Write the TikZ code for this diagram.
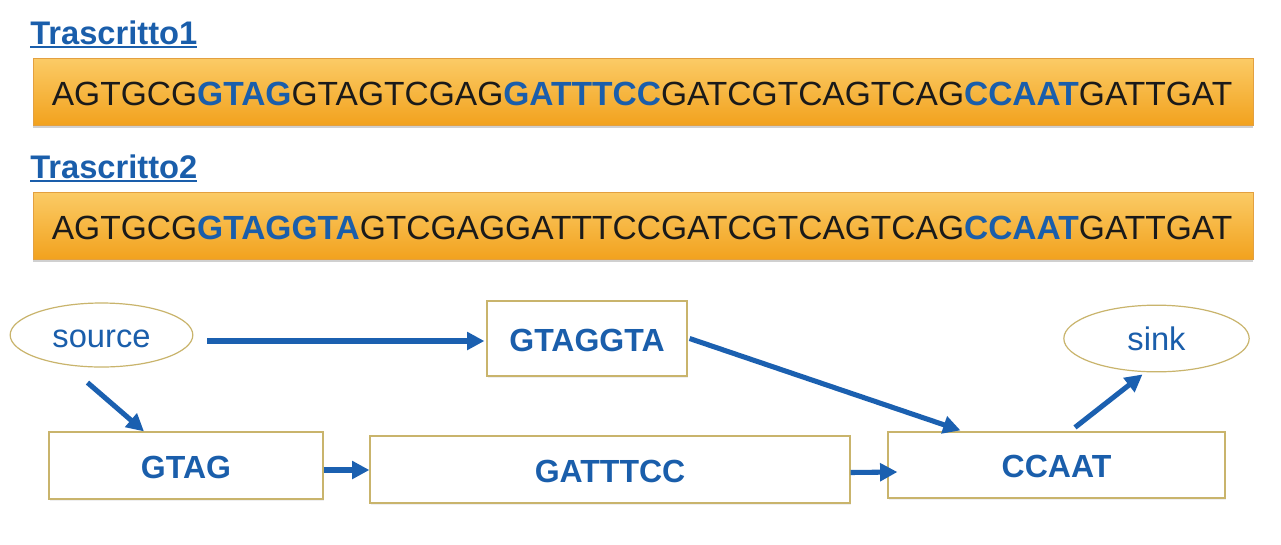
\documentclass[tikz,border=0pt]{standalone}
\usepackage{fontspec}
\setmainfont{Liberation Sans}
\usetikzlibrary{arrows.meta,shadows,calc,shapes.geometric}
\definecolor{tblue}{HTML}{1A5EAB}
\definecolor{abl}{HTML}{1B60B0}
\definecolor{tanb}{HTML}{C9B46C}
\definecolor{otop}{HTML}{FBCB66}
\definecolor{obot}{HTML}{F2A21E}
\definecolor{oline}{HTML}{E3A040}
\definecolor{seqk}{HTML}{1A1A1A}
\newcommand\seqhl[1]{{\bfseries\color{tblue}#1}}
\newcommand\myul[1]{\setbox0\hbox{#1}\rlap{\rule[-3.2pt]{\wd0}{1.5pt}}\box0}
\tikzset{
 seqbox/.style={rectangle, draw=oline, line width=0.6pt, top color=otop, bottom color=obot,
   minimum width=915pt, minimum height=50.25pt, inner sep=0pt,
   drop shadow={shadow xshift=0pt, shadow yshift=-2.5pt, opacity=0.3, fill=black!60}},
 seqtext/.style={anchor=west, inner sep=0pt, font=\fontsize{25.15}{30}\selectfont, text=seqk,
   text height=18pt, text depth=0pt},
 titletext/.style={anchor=base west, inner sep=0pt, font=\bfseries\fontsize{24.5}{29}\selectfont, text=tblue},
 wbox/.style={rectangle, draw=tanb, line width=0.9pt, fill=white, inner sep=0pt,
   font=\bfseries\fontsize{24}{29}\selectfont, text=tblue, text height=19pt, text depth=0pt,
   drop shadow={shadow xshift=0.8pt, shadow yshift=-1.2pt, opacity=0.12}},
 term/.style={ellipse, draw=tanb, line width=0.9pt, fill=white, inner sep=0pt,
   font=\fontsize{24.5}{29}\selectfont, text=tblue, text height=18.5pt, text depth=0pt},
 arr/.style={draw=abl, line width=3.8pt, -{Triangle[length=13pt,width=13pt]}},
}
\begin{document}
\begin{tikzpicture}[x=0.75pt,y=-0.75pt]
\fill[white] (0,0) rectangle (1281,544);
\useasboundingbox (0,0) rectangle (1281,544);

% titles
\node[titletext] (t1) at (30,44) {\myul{Trascritto1}};
\node[titletext] (t2) at (30,178) {\myul{Trascritto2}};

% sequence boxes
\node[seqbox] (b1) at (643,91.5) {};
\node[seqtext] (s1) at ($(b1.west)+(19,1.5)$)
 {AGTGCG\seqhl{GTAG}GTAGTCGAG\seqhl{GATTTCC}GATCGTCAGTCAG\seqhl{CCAAT}GATTGAT};
\node[seqbox] (b2) at (643,225.5) {};
\node[seqtext] (s2) at ($(b2.west)+(19,1.5)$)
 {AGTGCG\seqhl{GTAGGTA}GTCGAGGATTTCCGATCGTCAGTCAG\seqhl{CCAAT}GATTGAT};

% graph
\node[term, minimum width=137pt, minimum height=48pt] (src) at (101.5,335) {source};
\node[term, minimum width=139pt, minimum height=50pt] (snk) at (1156.5,338.5) {sink};
\node[wbox, minimum width=150pt, minimum height=56.25pt] (g7) at (587,338.5) {GTAGGTA};
\node[wbox, minimum width=205.5pt, minimum height=50.25pt] (g4) at (186,465.5) {GTAG};
\node[wbox, minimum width=360pt, minimum height=50.25pt] (gat) at (610,469.5) {GATTTCC};
\node[wbox, minimum width=252.75pt, minimum height=49.5pt] (cc) at (1056.5,465) {CCAAT};

\draw[arr] ($(src.east)+(14,6)$) -- ($(g7.west)+(-2,2.5)$);
\draw[arr] ($(src.south)+(-14,15)$) -- ($(g4.north)+(-42,0)$);
\draw[arr] ($(g4.east)+(0,4.5)$) -- ($(gat.west)+(0,0.5)$);
\draw[arr] ($(gat.east)+(0,3)$) -- ($(cc.west)+(10,7)$);
\draw[arr] ($(g7.east)+(2,0)$) -- ($(cc.north)+(-96,-1)$);
\draw[arr] ($(cc.north)+(18.5,-4)$) -- ($(snk.south)+(-14,2)$);
\end{tikzpicture}
\end{document}
